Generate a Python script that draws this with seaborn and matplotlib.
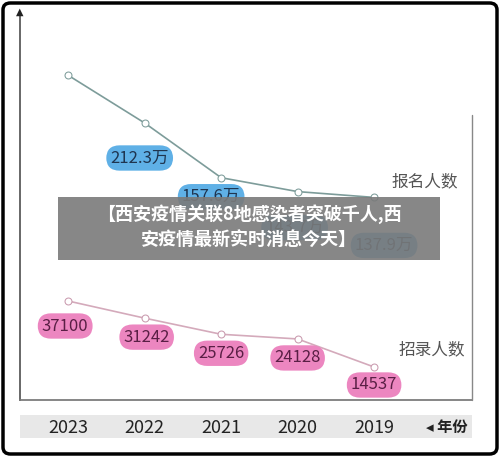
import matplotlib
matplotlib.use("Agg")
import matplotlib.pyplot as plt
import seaborn as sns
import pandas as pd
from matplotlib.patches import FancyBboxPatch, Rectangle

sns.set_theme(style="white")
plt.rcParams['font.family'] = ['Noto Sans CJK SC', 'DejaVu Sans']

years = ["2023", "2022", "2021", "2020", "2019"]
applicants = [260.0, 212.3, 157.6, 143.7, 137.9]
applicant_labels = ["", "212.3万", "157.6万", "143.7万", "137.9万"]
admitted = [37100, 31242, 25726, 24128, 14537]

df = pd.DataFrame({"x": range(len(years)), "app": applicants, "adm": admitted})

W, H = 500, 457
fig = plt.figure(figsize=(5, 4.57), dpi=100)
fig.patch.set_facecolor("white")

def fr(x0, y0, x1, y1):
    return [x0 / W, 1 - y1 / H, (x1 - x0) / W, (y1 - y0) / H]

pos = fr(20, 15, 472, 400)
xlim = (-0.63, 5.28)
ax1 = fig.add_axes(pos)
ax2 = fig.add_axes(pos)
for ax in (ax1, ax2):
    ax.set_facecolor("none")
    for s in ax.spines.values():
        s.set_visible(False)

sns.lineplot(data=df, x="x", y="app", ax=ax1, color="#7d9c9a", lw=1.2,
             marker="o", markersize=5, markerfacecolor="white",
             markeredgecolor="#7d9c9a", legend=False)
sns.lineplot(data=df, x="x", y="adm", ax=ax2, color="#d4aabb", lw=1.2,
             marker="o", markersize=5, markerfacecolor="white",
             markeredgecolor="#c99aae", legend=False)
for ax in (ax1, ax2):
    ax.set_xlabel(""); ax.set_ylabel("")
    ax.set_xlim(*xlim)
    ax.set_xticks([]); ax.set_yticks([])
ax1.set_ylim(-64.7, 320.3)
ax2.set_ylim(3255, 134877)
ax1.spines["left"].set_visible(True)
ax1.spines["bottom"].set_visible(True)
ax1.spines["left"].set_color("#555555")
ax1.spines["bottom"].set_color("#777777")

blue_off = [(0, -35), (-5, -35), (-10, -19), (-3, -36), (10, -48)]
for i, (v, lab) in enumerate(zip(applicants, applicant_labels)):
    if not lab:
        continue
    ax1.annotate(lab, (i, v), xytext=blue_off[i], textcoords="offset pixels",
                 ha="center", va="center", fontsize=12, color="#1f3550",
                 bbox=dict(boxstyle="round,pad=0.25,rounding_size=0.8",
                           fc="#5fb0e6", ec="none"))
pink_off = [(-3, -25), (2, -19), (0, -19), (0, -19), (0, -18)]
for i, v in enumerate(admitted):
    ax2.annotate(str(v), (i, v), xytext=pink_off[i], textcoords="offset pixels",
                 ha="center", va="center", fontsize=12, color="#5a1f45",
                 bbox=dict(boxstyle="round,pad=0.25,rounding_size=0.8",
                           fc="#ec86c0", ec="none"))

fig.add_artist(plt.Line2D([472 / W, 472 / W], [1 - 115 / H, 1 - 400 / H],
                          color="#888888", lw=1))
fig.text(20 / W, 1 - 12 / H, "▲", ha="center", va="center", fontsize=7,
         color="#222222", family=["DejaVu Sans"])

fig.text(425 / W, 1 - 182 / H, "报名人数", ha="center", va="center",
         fontsize=12, color="#555555")
fig.text(432 / W, 1 - 350 / H, "招录人数", ha="center", va="center",
         fontsize=12, color="#555555")

band = fig.add_axes(fr(20, 415, 472, 438))
band.set_xlim(*xlim)
band.set_ylim(0, 1)
band.set_facecolor("#e8e8e8")
for s in band.spines.values():
    s.set_visible(False)
band.set_xticks([]); band.set_yticks([])
for i, y in enumerate(years):
    band.text(i, 0.45, y, ha="center", va="center", fontsize=13, color="#222222")
fig.text(447 / W, 1 - 427 / H, "◂ 年份", ha="center", va="center",
         fontsize=11, color="#222222", fontweight="bold")

fig.add_artist(Rectangle((58 / W, 1 - 260 / H), 382 / W, 63 / H,
                         transform=fig.transFigure, fc="#7a7a7a", ec="none", alpha=0.9))
fig.text(249 / W, 1 - 214 / H, "【西安疫情关联8地感染者突破千人,西",
         ha="center", va="center", fontsize=13, color="white", fontweight="bold")
fig.text(249 / W, 1 - 240 / H, "安疫情最新实时消息今天】",
         ha="center", va="center", fontsize=13, color="white", fontweight="bold")

fig.add_artist(FancyBboxPatch((3 / W, 3 / H), 494 / W, 451 / H,
                              boxstyle="round,pad=0,rounding_size=0.015",
                              transform=fig.transFigure, fc="none",
                              ec="black", lw=2.5))

fig.savefig("out.png", dpi=100)
